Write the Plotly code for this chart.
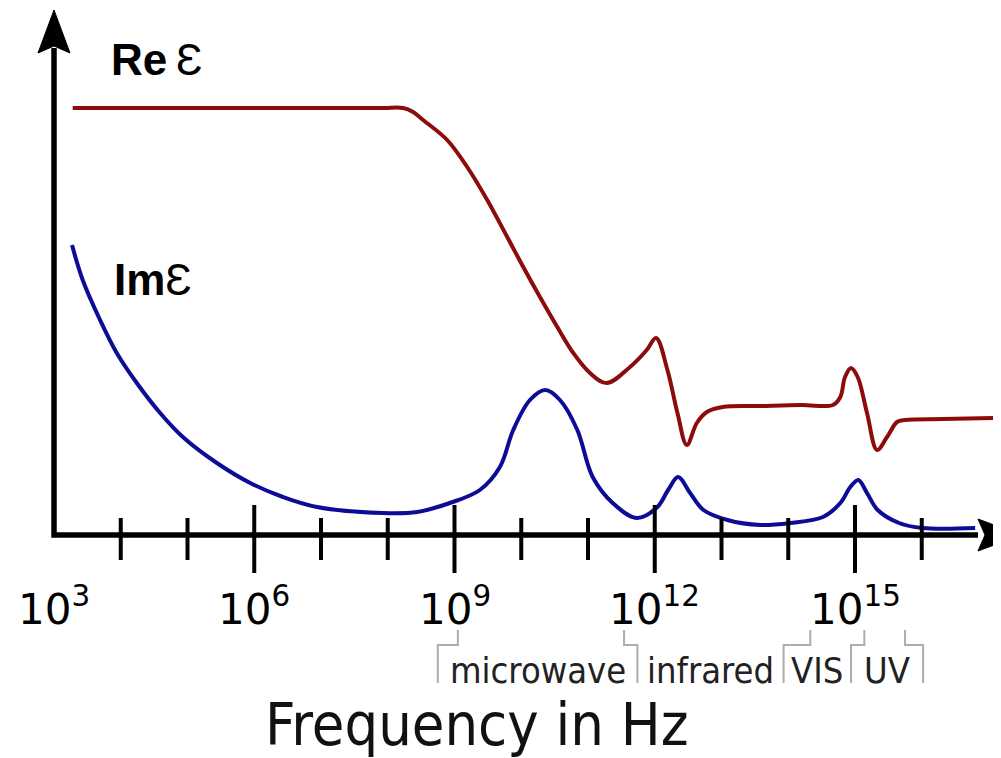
import plotly.graph_objects as go

# ---------------- data (x: log10 of frequency in Hz, y: permittivity, arbitrary units) ----------------
re_log_f = [3.28, 7.50, 7.95, 8.23, 8.38, 8.53, 8.89, 9.19, 9.49, 9.79, 10.03, 10.28, 10.54, 10.78, 11.03,
            11.28, 11.63, 11.88, 12.02, 12.19, 12.34, 12.48, 12.63, 12.78, 13.02, 13.58, 14.20,
            14.67, 14.78, 14.85, 14.94, 15.04, 15.18, 15.33, 15.48, 15.63, 15.75, 16.30, 17.07]
re_eps = [427, 427, 427, 427, 423, 415, 395, 368, 335, 298, 268, 238, 208, 182, 162,
          152, 168, 185, 197, 165, 122, 90, 112, 123, 128, 129, 130,
          130, 138, 158, 167, 158, 122, 85, 98, 113, 115, 116, 117]

im_log_f = [3.27, 3.43, 3.69, 3.94, 4.24, 4.59, 4.93, 5.44, 5.94, 6.43, 6.94, 7.93, 8.44, 8.93,
            9.38, 9.68, 9.88, 10.13, 10.36, 10.58, 10.84, 11.07, 11.37, 11.73, 12.04, 12.20,
            12.35, 12.53, 12.73, 13.09, 13.58, 14.03, 14.52, 14.78, 14.93, 15.05, 15.18, 15.34,
            15.66, 16.01, 16.80]
im_eps = [290, 255, 215, 182, 152, 122, 98, 72, 52, 38, 28, 22, 23, 32,
          45, 68, 105, 135, 145, 135, 105, 58, 32, 17, 28, 45,
          58, 42, 25, 15, 10, 12, 18, 32, 48, 55, 42, 25,
          12, 7, 7]

major_decades = [3, 6, 9, 12, 15]
major_labels = ["10<sup>3</sup>", "10<sup>6</sup>", "10<sup>9</sup>", "10<sup>12</sup>", "10<sup>15</sup>"]
minor_decades = [4, 5, 7, 8, 10, 11, 13, 14, 16]

band_names = ["microwave", "infrared", "VIS", "UV"]
band_edges = [9.05, 11.54, 14.33, 15.14, 15.75]          # log10 Hz, where brackets leave the axis

# ---------------- layout constants ----------------
W, H = 993, 750           # page body adds an 8 px margin
PX_PER_DECADE = 66.75
X0_PX = 46                # figure pixel position of 10^3
AXIS_Y_PX = 527           # figure pixel row of the frequency axis
x_range = [3 - X0_PX / PX_PER_DECADE, 3 + (W - X0_PX) / PX_PER_DECADE]
y_range = [AXIS_Y_PX - H, AXIS_Y_PX]

label_box_edges = [8.75, 11.74, 13.93, 14.94, 16.02]     # where the bracket legs reach the labels
RED = "#8c0c0c"
BLUE = "#0c0c96"
BLACK = "#000000"
GRAY = "#adadad"

fig = go.Figure()
fig.add_trace(go.Scatter(x=re_log_f, y=re_eps, mode="lines", name="Re ε",
                         line=dict(color=RED, width=4, shape="spline", smoothing=1.0)))
fig.add_trace(go.Scatter(x=im_log_f, y=im_eps, mode="lines", name="Im ε",
                         line=dict(color=BLUE, width=4, shape="spline", smoothing=1.0)))

shapes = []
x_start = major_decades[0]
x_end = 3 + (970 - X0_PX) / PX_PER_DECADE
y_top = 487
# axes (corner path)
shapes.append(dict(type="path", xref="x", yref="y",
                   path=f"M{x_end},0 L{x_start},0 L{x_start},{y_top}",
                   line=dict(color=BLACK, width=5.5)))
# arrow heads (pixel sized)
shapes.append(dict(type="path", xref="x", yref="y", xsizemode="pixel", ysizemode="pixel",
                   xanchor=x_start, yanchor=525,
                   path="M0,0 L-16,-43 L0,-36 L16,-43 Z",
                   fillcolor=BLACK, line=dict(color=BLACK, width=1)))
shapes.append(dict(type="path", xref="x", yref="y", xsizemode="pixel", ysizemode="pixel",
                   xanchor=3 + (1013 - X0_PX) / PX_PER_DECADE, yanchor=0,
                   path="M0,0 L-43,16 L-36,0 L-43,-16 Z",
                   fillcolor=BLACK, line=dict(color=BLACK, width=1)))
# ticks
for d in minor_decades:
    shapes.append(dict(type="line", xref="x", yref="y", ysizemode="pixel", yanchor=0,
                       x0=d, x1=d, y0=-25, y1=17, line=dict(color=BLACK, width=4)))
for d in major_decades[1:]:
    shapes.append(dict(type="line", xref="x", yref="y", ysizemode="pixel", yanchor=0,
                       x0=d, x1=d, y0=-38, y1=30, line=dict(color=BLACK, width=4)))
# band brackets
for e, b in zip(band_edges, label_box_edges):
    shapes.append(dict(type="path", xref="x", yref="y",
                       path=f"M{e},-95 L{e},-110 L{b},-110 L{b},-148",
                       line=dict(color=GRAY, width=2)))

annotations = []
for d, t in zip(major_decades, major_labels):
    annotations.append(dict(x=d, y=-71, xref="x", yref="y", text=t, showarrow=False,
                            xanchor="center", yanchor="middle",
                            font=dict(family="DejaVu Sans", size=42, color=BLACK)))
for i, name in enumerate(band_names):
    xc = (label_box_edges[i] + label_box_edges[i + 1]) / 2
    annotations.append(dict(x=xc, y=-135, xref="x", yref="y", text=name, showarrow=False,
                            xanchor="center", yanchor="middle",
                            font=dict(family="DejaVu Sans Condensed, DejaVu Sans", size=36, color="#222222")))
annotations.append(dict(x=9.34, y=-189, xref="x", yref="y", text="Frequency in Hz", showarrow=False,
                        xanchor="center", yanchor="middle",
                        font=dict(family="DejaVu Sans Condensed, DejaVu Sans", size=59, color="#111111")))
annotations.append(dict(x=4.54, y=476, xref="x", yref="y", text="<b>Re</b>\u2009Ɛ", showarrow=False,
                        xanchor="center", yanchor="middle",
                        font=dict(family="Liberation Sans, DejaVu Sans", size=44, color=BLACK)))
annotations.append(dict(x=4.476, y=255.5, xref="x", yref="y", text="<b>Im</b>Ɛ", showarrow=False,
                        xanchor="center", yanchor="middle",
                        font=dict(family="Liberation Sans, DejaVu Sans", size=44, color=BLACK)))

fig.update_layout(width=W, height=H, margin=dict(l=0, r=0, t=0, b=0),
                  paper_bgcolor="white", plot_bgcolor="white", showlegend=False,
                  xaxis=dict(range=x_range, visible=False, fixedrange=True),
                  yaxis=dict(range=y_range, visible=False, fixedrange=True),
                  shapes=shapes, annotations=annotations)
fig.write_html("out.html")
